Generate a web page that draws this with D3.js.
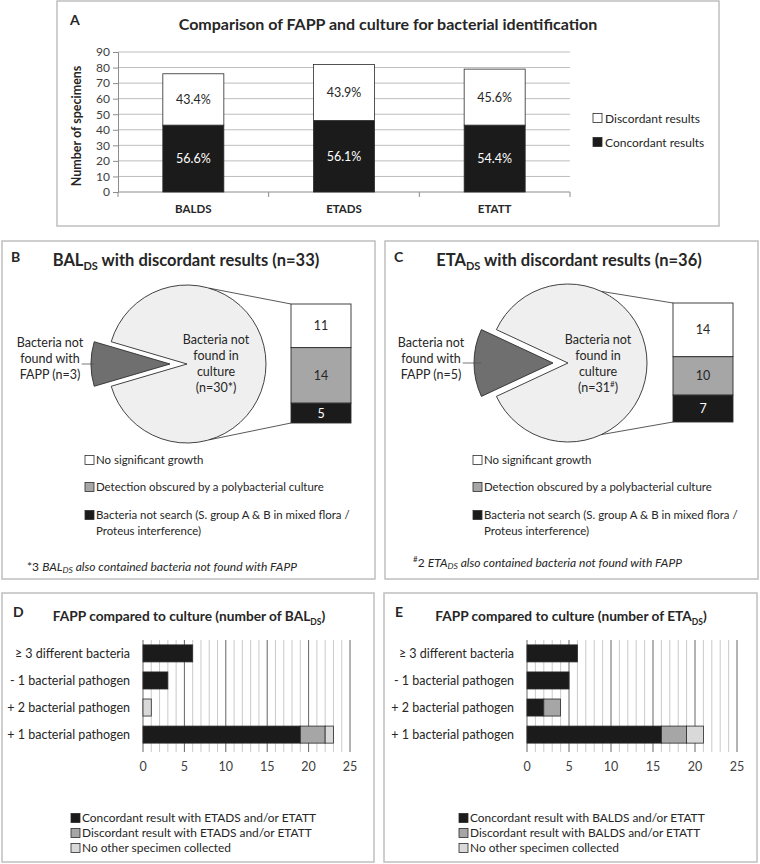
<!DOCTYPE html>
<html>
<head>
<meta charset="UTF-8">
<title>FAPP vs culture</title>
<script src="https://d3js.org/d3.v7.min.js"></script>
<style>
  body {margin:0; background:#fff;}
  svg {font-family: Lato, "Open Sans", sans-serif; fill:#262626;}
  .frame {fill:none; stroke:#bfbfbf; stroke-width:1.5;}
  .letter {font-weight:bold; font-size:14px;}
  .tick-lbl {font-size:12px; fill:#404040;}
</style>
</head>
<body>
<div id="chart"></div>
<script>
// ---- data ----
// panel A
var aCategories = ["BALDS", "ETADS", "ETATT"];
var aConcordant = [43, 46, 43];
var aDiscordant = [33, 36, 36];
var aConcPct = ["56.6%", "56.1%", "54.4%"];
var aDiscPct = ["43.4%", "43.9%", "45.6%"];
var aYTicks = [0, 10, 20, 30, 40, 50, 60, 70, 80, 90];
var aLegend = ["Discordant results", "Concordant results"];

// panels B / C (pie of bar)
var bPie = [3, 30];           // not found with FAPP, not found in culture
var bBar = [11, 14, 5];
var cPie = [5, 31];
var cBar = [14, 10, 7];
var pieLegend = ["No significant growth", "Detection obscured by a polybacterial culture",
                 "Bacteria not search (S. group A & B in mixed flora /", "Proteus interference)"];

// panels D / E
var hCategories = ["≥ 3 different bacteria", "- 1 bacterial pathogen", "+ 2 bacterial pathogen", "+ 1 bacterial pathogen"];
var dConcordant = [6, 3, 0, 19];
var dDiscordant = [0, 0, 0, 3];
var dNoOther    = [0, 0, 1, 1];
var eConcordant = [6, 5, 2, 16];
var eDiscordant = [0, 0, 2, 3];
var eNoOther    = [0, 0, 0, 2];
var hXTicks = [0, 5, 10, 15, 20, 25];
var dLegend = ["Concordant result with ETADS and/or ETATT", "Discordant result with ETADS and/or ETATT", "No other specimen collected"];
var eLegend = ["Concordant result with BALDS and/or ETATT", "Discordant result with BALDS and/or ETATT", "No other specimen collected"];

var BLACK = "#1b1b1b", GRAY = "#a6a6a6", LIGHT = "#d9d9d9", PIEBIG = "#efefef", PIESMALL = "#6f6f6f";

var svg = d3.select("#chart").append("svg")
    .attr("width", 760)
    .attr("height", 864);

// frames
[[57, 1, 662, 225], [2, 241, 373, 338], [385, 241, 373, 338], [2, 593, 372, 269], [384, 593, 373, 269]]
  .forEach(function(f) {
    svg.append("rect").attr("class", "frame")
      .attr("x", f[0]).attr("y", f[1]).attr("width", f[2]).attr("height", f[3]);
  });

// ================= panel A =================
var gA = svg.append("g");
gA.append("text").attr("class", "letter").attr("x", 70).attr("y", 25).text("A");
gA.append("text").attr("x", 388).attr("y", 30).attr("text-anchor", "middle")
  .style("font-weight", "bold").style("font-size", "16px")
  .text("Comparison of FAPP and culture for bacterial identification");

var xA = d3.scaleBand().domain(aCategories).range([118, 570])
    .paddingInner(0.595).paddingOuter(0.2975);
var yA = d3.scaleLinear().domain([0, 90]).range([192, 52]);

gA.append("g").selectAll("line").data(aYTicks.slice(1)).enter().append("line")
  .attr("x1", 118).attr("x2", 570)
  .attr("y1", function(d) { return yA(d); }).attr("y2", function(d) { return yA(d); })
  .attr("stroke", "#bdbdbd");

var axA = gA.append("g").attr("transform", "translate(118,0)")
  .call(d3.axisLeft(yA).tickValues(aYTicks).tickSize(5).tickPadding(3));
axA.select(".domain").attr("stroke", "#8c8c8c");
axA.selectAll(".tick line").attr("stroke", "#8c8c8c");
axA.selectAll("text").attr("class", "tick-lbl").style("font-family", "Lato");

gA.append("line").attr("x1", 118).attr("x2", 570).attr("y1", 192).attr("y2", 192).attr("stroke", "#8c8c8c");
gA.append("g").selectAll("line").data([0, 1, 2, 3]).enter().append("line")
  .attr("x1", function(i) { return 118 + i * xA.step(); })
  .attr("x2", function(i) { return 118 + i * xA.step(); })
  .attr("y1", 192).attr("y2", 197).attr("stroke", "#8c8c8c");

var aRows = aCategories.map(function(c, i) {
  return {cat: c, conc: aConcordant[i], disc: aDiscordant[i], cp: aConcPct[i], dp: aDiscPct[i]};
});
var aStack = d3.stack().keys(["conc", "disc"])(aRows);
var aFill = {conc: BLACK, disc: "#ffffff"};

gA.selectAll(".ser").data(aStack).enter().append("g")
  .attr("fill", function(s) { return aFill[s.key]; })
  .selectAll("rect").data(function(s) { return s; }).enter().append("rect")
  .attr("x", function(d) { return xA(d.data.cat); })
  .attr("width", xA.bandwidth())
  .attr("y", function(d) { return yA(d[1]); })
  .attr("height", function(d) { return yA(d[0]) - yA(d[1]); })
  .attr("stroke", "#2a2a2a").attr("stroke-width", 0.8);

aStack.forEach(function(s) {
  gA.append("g").selectAll("text").data(s).enter().append("text")
    .attr("x", function(d) { return xA(d.data.cat) + xA.bandwidth() / 2; })
    .attr("y", function(d) { return yA((d[0] + d[1]) / 2) + 4.5; })
    .attr("text-anchor", "middle").style("font-size", "12.5px")
    .attr("fill", s.key === "conc" ? "#ffffff" : "#262626")
    .text(function(d) { return s.key === "conc" ? d.data.cp : d.data.dp; });
});

gA.append("g").selectAll("text").data(aCategories).enter().append("text")
  .attr("x", function(d) { return xA(d) + xA.bandwidth() / 2; })
  .attr("y", 213).attr("text-anchor", "middle")
  .style("font-weight", "bold").style("font-size", "11.5px")
  .text(function(d) { return d; });

gA.append("text").attr("transform", "translate(81,126) rotate(-90)")
  .attr("text-anchor", "middle").style("font-weight", "bold").style("font-size", "12.5px")
  .text("Number of specimens");

aLegend.forEach(function(t, i) {
  var yy = 118 + i * 24;
  gA.append("rect").attr("x", 593).attr("y", yy - 4.5).attr("width", 9).attr("height", 9)
    .attr("fill", i === 0 ? "#fff" : BLACK).attr("stroke", "#2a2a2a").attr("stroke-width", 0.8);
  gA.append("text").attr("x", 605).attr("y", yy + 4.5).style("font-size", "12px").text(t);
});

// ================= panels B / C =================
function pieOfBar(o) {
  var g = svg.append("g");
  g.append("text").attr("class", "letter").attr("x", o.left + 9).attr("y", 262).text(o.letter);
  var title = g.append("text").attr("x", o.titleX).attr("y", 266).attr("text-anchor", "middle")
    .style("font-weight", "bold").style("font-size", "16.5px");
  title.append("tspan").text(o.titleA);
  title.append("tspan").attr("dy", 4).style("font-size", "11px").text("DS");
  title.append("tspan").attr("dy", -4).text(o.titleB);

  var total = d3.sum(o.pie);
  var half = o.pie[0] / total * Math.PI;
  var pie = d3.pie().sort(null)
    .startAngle(1.5 * Math.PI - half).endAngle(3.5 * Math.PI - half);
  var arc = d3.arc().innerRadius(0).outerRadius(o.r);
  var slices = pie(o.pie);

  g.selectAll("path").data(slices).enter().append("path")
    .attr("d", arc)
    .attr("transform", function(d, i) {
      return "translate(" + (o.cx - (i === 0 ? o.explode : 0)) + "," + o.cy + ")";
    })
    .attr("fill", function(d, i) { return i === 0 ? PIESMALL : PIEBIG; })
    .attr("stroke", "#2e2e2e").attr("stroke-width", 0.9);

  // secondary bar
  var yb = d3.scaleLinear().domain([0, d3.sum(o.bar)]).range([o.barTop, o.barTop + 119]);
  var cum = 0, segs = o.bar.map(function(v) { var s = {v: v, y0: cum}; cum += v; return s; });
  var segFill = ["#ffffff", GRAY, BLACK];
  g.selectAll(".seg").data(segs).enter().append("rect")
    .attr("x", o.barX).attr("width", 60)
    .attr("y", function(d) { return yb(d.y0); })
    .attr("height", function(d) { return yb(d.y0 + d.v) - yb(d.y0); })
    .attr("fill", function(d, i) { return segFill[i]; })
    .attr("stroke", "#2e2e2e").attr("stroke-width", 0.9);
  g.selectAll(".segt").data(segs).enter().append("text")
    .attr("x", o.barX + 30).attr("y", function(d) { return yb(d.y0 + d.v / 2) + 4.5; })
    .attr("text-anchor", "middle").style("font-size", "12.5px")
    .attr("fill", function(d, i) { return i === 2 ? "#fff" : "#262626"; })
    .text(function(d) { return d.v; });

  // connector lines
  var px = o.cx + o.r * Math.sin(half);
  g.append("line").attr("x1", px).attr("y1", o.cy - o.r * Math.cos(half))
    .attr("x2", o.barX).attr("y2", o.barTop).attr("stroke", "#2e2e2e").attr("stroke-width", 0.8);
  g.append("line").attr("x1", px).attr("y1", o.cy + o.r * Math.cos(half))
    .attr("x2", o.barX).attr("y2", o.barTop + 119).attr("stroke", "#2e2e2e").attr("stroke-width", 0.8);

  // labels inside / outside pie
  ["Bacteria not", "found in", "culture"].forEach(function(t, i) {
    g.append("text").attr("x", o.innerX).attr("y", 344 + i * 16).attr("text-anchor", "middle")
      .style("font-size", "12.5px").text(t);
  });
  var last = g.append("text").attr("x", o.innerX).attr("y", 392).attr("text-anchor", "middle")
    .style("font-size", "12.5px");
  last.append("tspan").text("(n=" + o.pie[1]);
  if (o.mark === "#") {
    last.append("tspan").attr("dy", -5).style("font-size", "8px").text("#");
    last.append("tspan").attr("dy", 5).text(")");
  } else {
    last.append("tspan").text(o.mark + ")");
  }
  var mid;
  ["Bacteria not", "found with", "FAPP (n=" + o.pie[0] + ")"].forEach(function(t, i) {
    var tx = g.append("text").attr("x", o.outerX).attr("y", 347 + i * 16).attr("text-anchor", "middle")
      .style("font-size", "12.5px").text(t);
    if (i === 1) mid = tx;
  });
  var leadStart = o.outerX + mid.node().getComputedTextLength() / 2 + 2;
  var leadEnd = o.cx - o.explode - o.r * Math.cos(half);
  g.append("line").attr("x1", leadStart).attr("x2", leadEnd).attr("y1", o.cy).attr("y2", o.cy)
    .attr("stroke", "#555").attr("stroke-width", 0.8);

  // legend (font sized so the longest row spans ~254px, as in the figure)
  var lgY = [460, 487, 515];
  var lgFill = ["#ffffff", GRAY, BLACK];
  var probe = g.append("text").style("font-size", "12px").text(pieLegend[2]);
  var lgSize = 12 * 254 / probe.node().getComputedTextLength();
  probe.remove();
  lgY.forEach(function(yy, i) {
    g.append("rect").attr("x", o.legX).attr("y", yy - 4.5).attr("width", 9).attr("height", 9)
      .attr("fill", lgFill[i]).attr("stroke", "#2e2e2e").attr("stroke-width", 0.8);
    g.append("text").attr("x", o.legX + 11).attr("y", yy + 4.3).style("font-size", lgSize + "px").text(pieLegend[i]);
  });
  g.append("text").attr("x", o.legX + 11).attr("y", 534.5).style("font-size", lgSize + "px").text(pieLegend[3]);

  // footnote
  var fn = g.append("text").attr("x", o.fnX).attr("y", o.fnY).style("font-size", "12px");
  if (o.mark === "#") {
    fn.append("tspan").attr("dy", -5).style("font-size", "8px").text("#");
    fn.append("tspan").attr("dy", 5).text(o.fnNum + " ");
  } else {
    fn.append("tspan").text(o.mark + o.fnNum + " ");
  }
  fn.append("tspan").style("font-style", "italic").text(o.fnSpec);
  fn.append("tspan").style("font-style", "italic").style("font-size", "8.5px").attr("dy", 2).text("DS");
  fn.append("tspan").style("font-style", "italic").attr("dy", -2).text(" also contained bacteria not found with FAPP");
}

pieOfBar({letter: "B", left: 2, titleX: 186, titleA: "BAL", titleB: " with discordant results (n=33)",
  pie: bPie, bar: bBar, cx: 187, cy: 364, r: 79, explode: 17, barX: 291, barTop: 304,
  innerX: 216, outerX: 50, legX: 85, mark: "*", fnNum: "3", fnX: 27, fnY: 571, fnSpec: "BAL"});
pieOfBar({letter: "C", left: 385, titleX: 569, titleA: "ETA", titleB: " with discordant results (n=36)",
  pie: cPie, bar: cBar, cx: 568, cy: 363, r: 79, explode: 15, barX: 673, barTop: 303,
  innerX: 598, outerX: 431, legX: 473, mark: "#", fnNum: "2", fnX: 413, fnY: 567, fnSpec: "ETA"});

// ================= panels D / E =================
function hbar(o) {
  var g = svg.append("g");
  g.append("text").attr("class", "letter").attr("x", o.left + 11).attr("y", 617).text(o.letter);
  var title = g.append("text").attr("x", o.titleX).attr("y", 621).attr("text-anchor", "middle")
    .style("font-weight", "bold").style("font-size", "13.7px");
  title.append("tspan").text(o.title);
  title.append("tspan").attr("dy", 4).style("font-size", "8.5px").text("DS");
  title.append("tspan").attr("dy", -4).text(")");

  var x = d3.scaleLinear().domain([0, 25]).range([o.x0, o.x1]);
  var y = d3.scaleBand().domain(hCategories).range([640, 748]).paddingInner(0.37).paddingOuter(0.18);

  g.append("g").selectAll("line").data(d3.range(0, 26)).enter().append("line")
    .attr("x1", function(d) { return x(d); }).attr("x2", function(d) { return x(d); })
    .attr("y1", 640).attr("y2", 752)
    .attr("stroke", function(d) { return d % 5 === 0 ? "#555" : "#c4c4c4"; })
    .attr("stroke-width", 0.9);

  var rows = hCategories.map(function(c, i) {
    return {cat: c, conc: o.conc[i], disc: o.disc[i], none: o.none[i]};
  });
  var st = d3.stack().keys(["conc", "disc", "none"])(rows);
  var fills = {conc: BLACK, disc: GRAY, none: LIGHT};
  g.selectAll(".s").data(st).enter().append("g")
    .attr("fill", function(s) { return fills[s.key]; })
    .selectAll("rect").data(function(s) { return s.filter(function(d) { return d[1] > d[0]; }); })
    .enter().append("rect")
    .attr("x", function(d) { return x(d[0]); })
    .attr("width", function(d) { return x(d[1]) - x(d[0]); })
    .attr("y", function(d) { return y(d.data.cat); })
    .attr("height", y.bandwidth())
    .attr("stroke", "#2a2a2a").attr("stroke-width", 0.8);

  g.append("g").selectAll("text").data(hCategories).enter().append("text")
    .attr("x", o.x0 - 13).attr("y", function(d) { return y(d) + y.bandwidth() / 2 + 4.5; })
    .attr("text-anchor", "end").style("font-size", "12.5px").text(function(d) { return d; });

  g.append("g").selectAll("text").data(hXTicks).enter().append("text")
    .attr("x", function(d) { return x(d); }).attr("y", 771)
    .attr("text-anchor", "middle").style("font-size", "12.5px").attr("fill", "#404040")
    .text(function(d) { return d; });

  var lf = [BLACK, GRAY, LIGHT];
  o.legend.forEach(function(t, i) {
    var yy = 818 + i * 15;
    g.append("rect").attr("x", o.legX).attr("y", yy - 4.5).attr("width", 9).attr("height", 9)
      .attr("fill", lf[i]).attr("stroke", "#2a2a2a").attr("stroke-width", 0.8);
    g.append("text").attr("x", o.legX + 11).attr("y", yy + 4.2).style("font-size", "11.9px").text(t);
  });
}

hbar({letter: "D", left: 2, titleX: 189, title: "FAPP compared to culture (number of BAL",
  x0: 143, x1: 350, conc: dConcordant, disc: dDiscordant, none: dNoOther, legend: dLegend, legX: 71});
hbar({letter: "E", left: 384, titleX: 571, title: "FAPP compared to culture (number of ETA",
  x0: 527, x1: 737, conc: eConcordant, disc: eDiscordant, none: eNoOther, legend: eLegend, legX: 459});
</script>
</body>
</html>
